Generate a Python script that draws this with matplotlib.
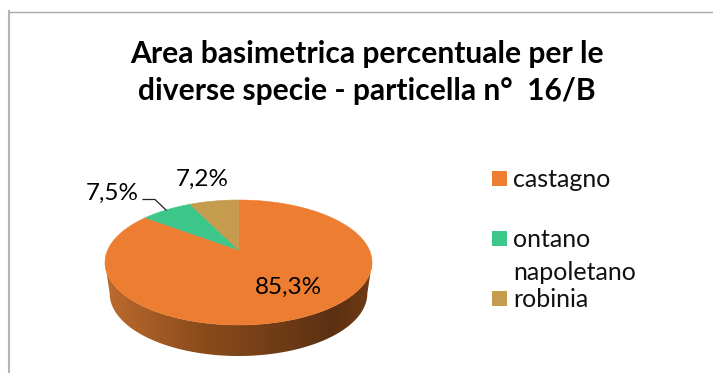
import numpy as np
import matplotlib
matplotlib.use("Agg")
import matplotlib.pyplot as plt
from matplotlib.patches import Polygon, Rectangle

title_lines = ["Area basimetrica percentuale per le", "diverse specie - particella n°  16/B"]
species = ["castagno", "ontano\nnapoletano", "robinia"]
shares = [85.3, 7.5, 7.2]
share_labels = ["85,3%", "7,5%", "7,2%"]
colors = ["#ED7D31", "#3CC68A", "#C59B4E"]

# pie projection (tilted disc seen in perspective), in pixels
CX, CY = 238.5, 250.0
RX, RY, K = 130.8, 60.0, 0.2
DEPTH = 31

FONT = "Lato"


def project(theta):
    """theta measured clockwise from the top of the disc"""
    u, v = np.sin(theta), np.cos(theta)
    w = 1 + K * v
    return CX + RX * u / w, CY - RY * v / w


fig = plt.figure(figsize=(7.13, 3.73), dpi=100)
fig.patch.set_facecolor("white")
ax = fig.add_axes([0, 0, 1, 1])
ax.set_xlim(0, 713)
ax.set_ylim(373, 0)
ax.axis("off")

# chart frame, cut off by the picture on the right and bottom
ax.plot([9, 713], [11.5, 11.5], color="#a8a8a8", lw=1.0)
ax.plot([9, 9], [11, 373], color="#b4b4b4", lw=1.5)

for line, y in zip(title_lines, [62.5, 100]):
    ax.text(367, y, line, ha="center", va="baseline", fontsize=21.6,
            fontweight="bold", family=FONT, color="black")

# ── side wall ────────────────────────────────────────────────────────────────
t = np.linspace(0, 2 * np.pi, 721)
ex, ey = project(t)
left = np.argmin(ex)
right = np.argmax(ex)
front = np.arange(right, left + 1)
bx = CX + (ex[front] - CX) * 0.965
by = ey[front] + DEPTH
wall = np.vstack([np.column_stack([ex[front], ey[front]]),
                  np.column_stack([bx[::-1], by[::-1]])])
clip = Polygon(wall, closed=True, facecolor="none", edgecolor="none")
ax.add_patch(clip)
stops = np.array([[0.74, 0.42, 0.18], [0.55, 0.30, 0.11],
                  [0.36, 0.19, 0.07], [0.44, 0.23, 0.08]])
pos = np.linspace(0, 1, 256)
grad = np.column_stack([np.interp(pos, [0, 0.35, 0.85, 1], stops[:, i]) for i in range(3)])
im = ax.imshow(grad[np.newaxis, :, :], extent=[ex.min(), ex.max(), 360, 250],
               aspect="auto", zorder=2)
im.set_clip_path(clip)
ax.set_xlim(0, 713)
ax.set_ylim(373, 0)

# ── top face ─────────────────────────────────────────────────────────────────
angles = 2 * np.pi * np.cumsum([0] + shares) / sum(shares)
for start, stop, c in zip(angles[:-1], angles[1:], colors):
    th = np.linspace(start, stop, 200)
    px, py = project(th)
    ax.add_patch(Polygon(np.column_stack([np.r_[CX, px], np.r_[CY, py]]), closed=True,
                         facecolor=c, edgecolor=c, lw=0.4, zorder=3))

# data labels and the leader line of the small slice
ax.text(288.5, 287, share_labels[0], ha="center", va="center", fontsize=17.5, family=FONT, zorder=4)
ax.text(112.5, 193, share_labels[1], ha="center", va="center", fontsize=17.5, family=FONT, zorder=4)
ax.text(202, 179, share_labels[2], ha="center", va="center", fontsize=17.5, family=FONT, zorder=4)
ax.plot([143, 155, 166], [199.5, 199.5, 210], color="#222222", lw=0.9, zorder=4)

# ── legend ───────────────────────────────────────────────────────────────────
for name, c, y in zip(species, colors, [171, 231, 291]):
    ax.add_patch(Rectangle((492, y), 15, 15, facecolor=c, edgecolor="none"))
    ax.text(513, y - 3, name, ha="left", va="top", fontsize=18, family=FONT,
            color="#111111", linespacing=1.53)

fig.savefig("out.png", dpi=100)
plt.close(fig)
